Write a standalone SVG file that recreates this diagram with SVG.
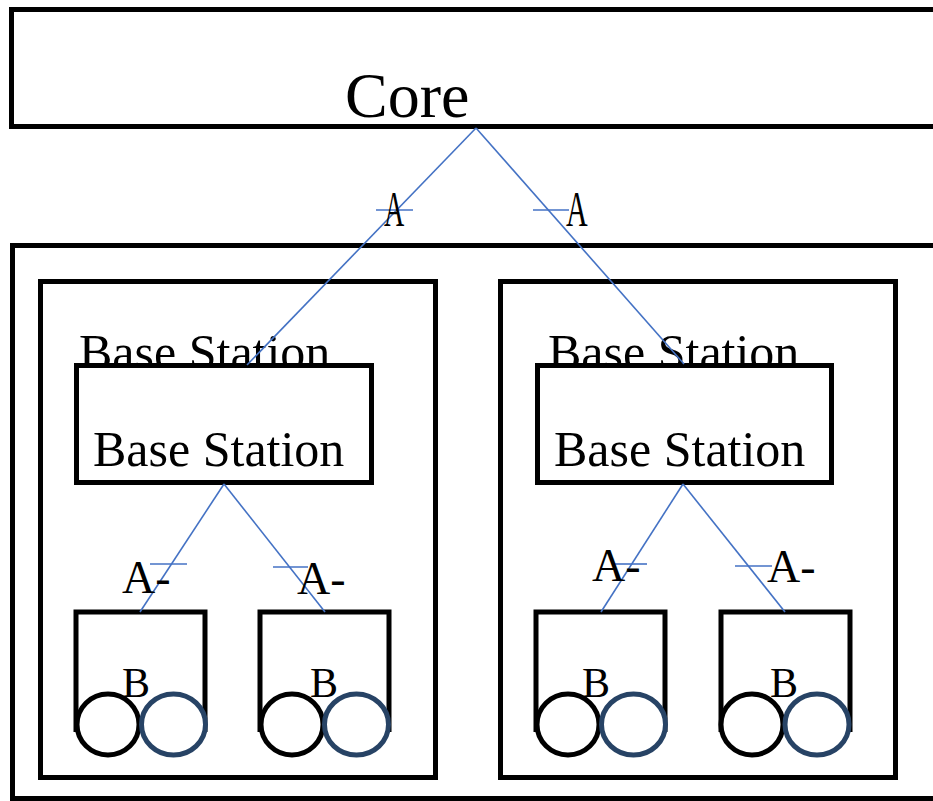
<svg xmlns="http://www.w3.org/2000/svg" width="933" height="801" viewBox="0 0 933 801">
  <style>
    .box { fill: #ffffff; stroke: #000000; stroke-width: 5; }
    .frame { fill: none; stroke: #000000; stroke-width: 5; }
    .link { fill: none; stroke: #4472c4; stroke-width: 1.6; }
    .ring-k { fill: #ffffff; stroke: #000000; stroke-width: 5; }
    .ring-b { fill: #ffffff; stroke: #274365; stroke-width: 5; }
    text { font-family: "Liberation Serif", "Times New Roman", serif; fill: #000000; }
    .t-core { font-size: 64px; }
    .t-bs { font-size: 50px; }
    .t-a { font-size: 50px; }
    .t-am { font-size: 46px; }
    .t-b { font-size: 42px; }
  </style>
  <rect width="933" height="801" fill="#ffffff"/>

  <!-- core network bar -->
  <g id="core">
    <rect class="box" x="11.5" y="9.5" width="940" height="117"/>
    <text class="t-core" x="345" y="117">Core</text>
  </g>

  <!-- access network frame -->
  <g id="access">
    <rect class="box" x="12.5" y="245.5" width="940" height="553"/>
  </g>

  <!-- cell containers -->
  <g id="cell-left">
    <rect class="box" x="40.5" y="281.5" width="395" height="496"/>
    <text class="t-bs" x="79" y="369">Base Station</text>
  </g>
  <g id="cell-right">
    <rect class="box" x="500.5" y="281.5" width="395" height="496"/>
    <text class="t-bs" x="548" y="369">Base Station</text>
  </g>

  <!-- base stations -->
  <g id="bs-left">
    <rect class="box" x="76.5" y="365.5" width="295" height="117"/>
    <text class="t-bs" x="93" y="466">Base Station</text>
  </g>
  <g id="bs-right">
    <rect class="box" x="537.5" y="365.5" width="294" height="117"/>
    <text class="t-bs" x="554" y="466">Base Station</text>
  </g>

  <!-- terminals -->
  <g id="ue-1">
    <path class="frame" d="M76,732 V612 H205 V732"/>
    <ellipse class="ring-k" cx="108" cy="724.5" rx="31" ry="30.5"/>
    <ellipse class="ring-b" cx="173.5" cy="724.5" rx="32" ry="30.5"/>
    <text class="t-b" x="122" y="697">B</text>
  </g>
  <g id="ue-2">
    <path class="frame" d="M260,732 V612 H389 V732"/>
    <ellipse class="ring-k" cx="292" cy="724.5" rx="31" ry="30.5"/>
    <ellipse class="ring-b" cx="356.5" cy="724.5" rx="32" ry="30.5"/>
    <text class="t-b" x="310" y="697">B</text>
  </g>
  <g id="ue-3">
    <path class="frame" d="M536,732 V612 H665 V732"/>
    <ellipse class="ring-k" cx="568" cy="724.5" rx="31" ry="30.5"/>
    <ellipse class="ring-b" cx="633.5" cy="724.5" rx="32" ry="30.5"/>
    <text class="t-b" x="582" y="697">B</text>
  </g>
  <g id="ue-4">
    <path class="frame" d="M721,732 V612 H850 V732"/>
    <ellipse class="ring-k" cx="752" cy="724.5" rx="31" ry="30.5"/>
    <ellipse class="ring-b" cx="817" cy="724.5" rx="32" ry="30.5"/>
    <text class="t-b" x="770" y="697">B</text>
  </g>

  <!-- links -->
  <g id="connectors">
    <path class="link" d="M476,128 L247,365"/>
    <path class="link" d="M476,128 L684,364"/>
    <path class="link" d="M224,484 L140,612"/>
    <path class="link" d="M224,484 L325,612"/>
    <path class="link" d="M683,484 L601,612"/>
    <path class="link" d="M683,484 L785,612"/>
    <!-- interface tick marks -->
    <path class="link" d="M376,210 H413"/>
    <path class="link" d="M533,210 H569"/>
    <path class="link" d="M150,564 H187"/>
    <path class="link" d="M273,567 H308"/>
    <path class="link" d="M615,564 H647"/>
    <path class="link" d="M735,566 H772"/>
  </g>

  <!-- interface labels -->
  <g id="labels">
    <text class="t-a" transform="translate(384,226) scale(0.56,1)">A</text>
    <text class="t-a" transform="translate(566,226) scale(0.6,1)">A</text>
    <text class="t-am" x="122" y="593">A-</text>
    <text class="t-am" x="297" y="594">A-</text>
    <text class="t-am" x="592" y="581">A-</text>
    <text class="t-am" x="767" y="582">A-</text>
  </g>
</svg>
